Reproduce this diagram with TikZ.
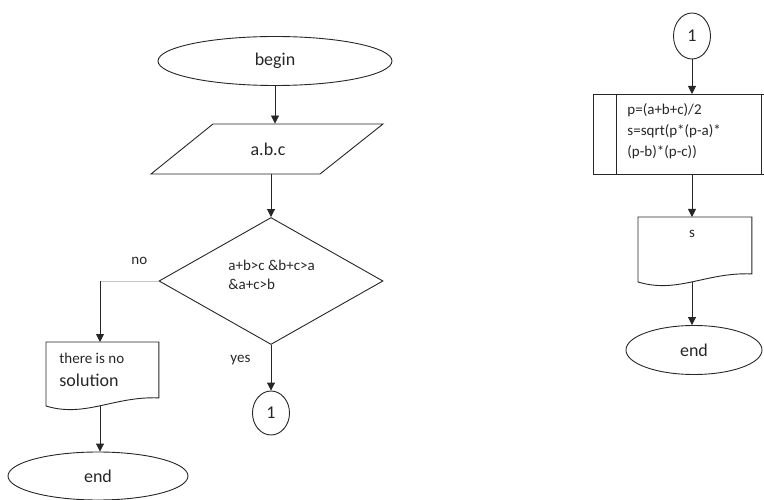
\documentclass[tikz,border=0pt]{standalone}
\usepackage{fontspec}
\setmainfont{Carlito}
\usetikzlibrary{shapes.geometric,arrows.meta}

\newcommand\chartbig{\fontsize{18}{21}\selectfont}
\newcommand\chartsmall{\fontsize{15}{18}\selectfont}

\begin{document}
\begin{tikzpicture}[x=1pt,y=-1pt,
  color=black!85, line width=0.9pt,
  term/.style={ellipse, draw, inner sep=0pt, font=\chartbig},
  conn/.style={ellipse, draw, inner sep=0pt, minimum width=37pt, font=\chartbig},
  frame/.style={inner sep=0pt, anchor=north west},
  txt/.style={inner sep=0pt, font=\chartsmall},
  flow/.style={-{Triangle[length=8pt,width=8pt]}},
  weak/.style={draw=black!22, line width=0.6pt}]

\useasboundingbox (0,0) rectangle (764,500);
\clip (0,0) rectangle (764,500);

% ---------- left column ----------
\node[term, minimum width=234pt, minimum height=49pt] (begin) at (275,61) {begin};

% input parallelogram
\node[inner sep=0pt, minimum width=170pt, minimum height=50pt, font=\chartbig] (in) at (268,149) {a.b.c};
\draw (213,124) -- (383,124) -- (320,174) -- (151,174) -- cycle;

% decision
\node[diamond, draw, inner sep=0pt, minimum width=224pt, minimum height=127pt] (dec) at (271,281) {};
\node[txt, anchor=base west] (cond1) at (228,271) {a+b>c \&b+c>a};
\node[txt, anchor=base west] (cond2) at (228,290) {\&a+c>b};

\node[txt, anchor=base west] (nolbl) at (131,265) {no};
\node[txt, anchor=base west] (yeslbl) at (230,362) {yes};

% output document: no solution
\node[frame, minimum width=112pt, minimum height=55pt] (sol) at (46,342) {};
\draw (sol.north west) -- (sol.north east) -- (sol.south east)
  .. controls (114,396) and (85,418) .. (46,406) -- cycle;
\node[txt, anchor=base west] (sol1) at (59,363) {there is no};
\node[txt, anchor=base west, font=\chartbig] (sol2) at (59,386) {solution};
\coordinate (solb) at (100,406);

\node[term, minimum width=180pt, minimum height=48pt] (end1) at (98,476) {end};

% connector 1
\node[conn, minimum height=44pt] (con1) at (271,413) {1};

% left connectors
\draw[flow] (begin.south) -- (begin.south |- in.north);
\draw[flow] (dec.north |- in.south) -- (dec.north);
\coordinate (nobend) at (100,281);
\draw[weak] (dec.west) -- (nobend);
\draw[flow] (nobend) -- (nobend |- sol.north);
\draw[flow] (solb) -- (solb |- end1.north);
\draw[flow] (dec.south) -- (con1.north);

% ---------- right column ----------
\node[conn, minimum height=46pt] (con2) at (692,36) {1};

% predefined process
\node[frame, minimum width=191pt, minimum height=80pt] (proc) at (593,94) {};
\draw (proc.north west) rectangle (proc.south east);
\draw ([xshift=23pt]proc.north west) -- ([xshift=23pt]proc.south west);
\draw ([xshift=-23pt]proc.north east) -- ([xshift=-23pt]proc.south east);
\node[txt, anchor=base west] (p1) at (627,115) {p=(a+b+c)/2};
\node[txt, anchor=base west] (p2) at (627,136) {s=sqrt(p*(p-a)*};
\node[txt, anchor=base west] (p3) at (627,157) {(p-b)*(p-c))};

% output document: s
\node[frame, minimum width=113pt, minimum height=56pt] (out) at (638,217) {};
\draw (out.north west) -- (out.north east) -- (out.south east)
  .. controls (706,272) and (678,294) .. (638,282) -- cycle;
\node[txt, anchor=base] (outs) at (692,238) {s};
\coordinate (outb) at (692,282);

\node[term, minimum width=136pt, minimum height=49pt] (end2) at (694,350) {end};

% right connectors
\draw[flow] (con2.south) -- (con2.south |- proc.north);
\draw[flow] (con2.south |- proc.south) -- (con2.south |- out.north);
\draw[flow] (outb) -- (outb |- end2.north);
\end{tikzpicture}
\end{document}
